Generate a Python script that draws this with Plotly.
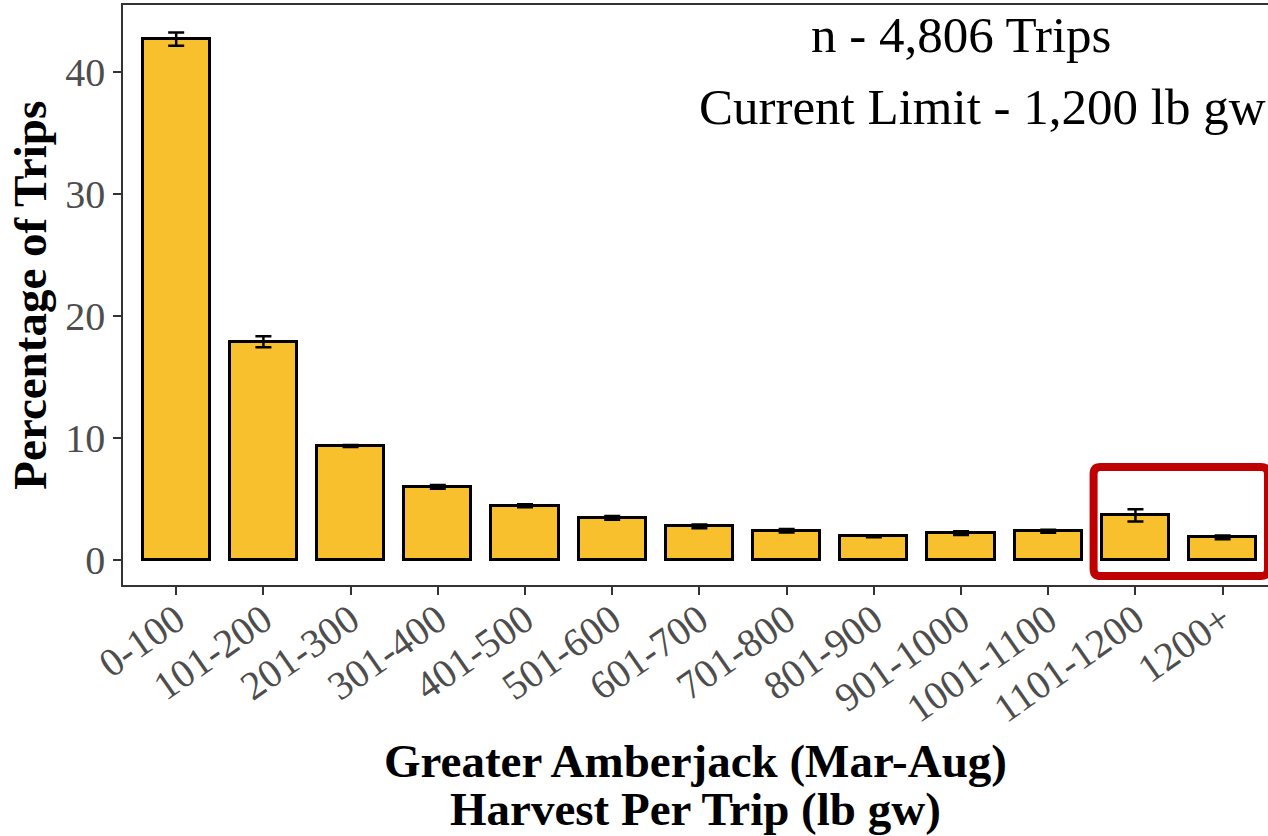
import plotly.graph_objects as go

# harvest bins (lb gw) and share of trips
categories = [
    "0-100", "101-200", "201-300", "301-400", "401-500", "501-600", "601-700",
    "701-800", "801-900", "901-1000", "1001-1100", "1101-1200", "1200+",
]
pct_trips = [42.7, 17.9, 9.35, 6.0, 4.45, 3.45, 2.75, 2.4, 1.95, 2.2, 2.35, 3.65, 1.85]
pct_err = [0.55, 0.45, 0.08, 0.15, 0.12, 0.15, 0.15, 0.15, 0.08, 0.15, 0.12, 0.5, 0.15]

y_ticks = [0, 10, 20, 30, 40]
n_label = "n - 4,806 Trips"
limit_label = "Current Limit - 1,200 lb gw"
x_title_lines = ["Greater Amberjack (Mar-Aug)", "Harvest Per Trip (lb gw)"]
y_title = "Percentage of Trips"

SERIF = "Liberation Serif"
BAR_FILL = "#F9C02D"
AXIS_GREY = "#333333"
TICK_GREY = "#4D4D4D"
BOX_RED = "#C00000"

fig = go.Figure()
fig.add_trace(
    go.Bar(
        x=categories,
        y=pct_trips,
        width=0.77,
        marker={"color": BAR_FILL, "line": {"color": "black", "width": 3}},
        error_y={
            "type": "data",
            "array": pct_err,
            "visible": True,
            "color": "black",
            "thickness": 2.5,
            "width": 8,
        },
        showlegend=False,
        hoverinfo="x+y",
    )
)

# highlight box around the two bins near the trip limit (rounded corners)
bx0, bx1, by0, by1 = 10.52, 12.52, -1.31, 7.62
rx, ry = 0.08, 0.6
box_path = (
    f"M {bx0 + rx},{by1} L {bx1 - rx},{by1} Q {bx1},{by1} {bx1},{by1 - ry} "
    f"L {bx1},{by0 + ry} Q {bx1},{by0} {bx1 - rx},{by0} "
    f"L {bx0 + rx},{by0} Q {bx0},{by0} {bx0},{by0 + ry} "
    f"L {bx0},{by1 - ry} Q {bx0},{by1} {bx0 + rx},{by1} Z"
)
fig.add_shape(
    type="path",
    path=box_path,
    xref="x",
    yref="y",
    line={"color": BOX_RED, "width": 8},
    layer="above",
)

fig.add_annotation(
    x=9, y=43.0, xref="x", yref="y", text=n_label, showarrow=False,
    xanchor="center", yanchor="middle",
    font={"family": SERIF, "size": 51, "color": "black"},
)
fig.add_annotation(
    x=12.52, y=37.15, xref="x", yref="y", text=limit_label, showarrow=False,
    xanchor="right", yanchor="middle",
    font={"family": SERIF, "size": 51, "color": "black"},
)

# axis titles as annotations so the line spacing matches
fig.add_annotation(
    x=0.5, y=-0.303, xref="paper", yref="paper", text=x_title_lines[0],
    showarrow=False, xanchor="center", yanchor="middle",
    font={"family": SERIF, "size": 47, "color": "black", "weight": "bold"},
)
fig.add_annotation(
    x=0.5, y=-0.387, xref="paper", yref="paper", text=x_title_lines[1],
    showarrow=False, xanchor="center", yanchor="middle",
    font={"family": SERIF, "size": 47, "color": "black", "weight": "bold"},
)
fig.add_annotation(
    x=-0.0815, y=0.5, xref="paper", yref="paper", text=y_title,
    showarrow=False, textangle=-90, xanchor="center", yanchor="middle",
    font={"family": SERIF, "size": 47, "color": "black", "weight": "bold"},
)

fig.update_xaxes(
    type="category",
    range=[-0.61, 12.52],
    showline=True,
    mirror=True,
    linecolor=AXIS_GREY,
    linewidth=1.5,
    showgrid=False,
    zeroline=False,
    ticks="outside",
    ticklen=8,
    tickwidth=1.5,
    tickcolor=AXIS_GREY,
    tickangle=-35,
    ticklabelstandoff=-14,
    tickfont={"family": SERIF, "size": 40, "color": TICK_GREY},
)
fig.update_yaxes(
    range=[-2.05, 45.5],
    tickvals=y_ticks,
    showline=True,
    mirror=False,
    linecolor=AXIS_GREY,
    linewidth=1.5,
    showgrid=False,
    zeroline=False,
    ticks="outside",
    ticklen=8,
    tickwidth=1.5,
    tickcolor=AXIS_GREY,
    tickfont={"family": SERIF, "size": 40, "color": TICK_GREY},
)
fig.update_layout(
    width=1268,
    height=836,
    margin={"l": 123, "r": 0, "t": 5, "b": 251},
    plot_bgcolor="white",
    paper_bgcolor="white",
    bargap=0,
)

# drop the browser's default body margin so the figure sits at the page corner
fig.write_html(
    "out.html",
    config={"displayModeBar": False},
    post_script="document.body.style.margin='0';document.body.style.overflow='hidden';",
)
